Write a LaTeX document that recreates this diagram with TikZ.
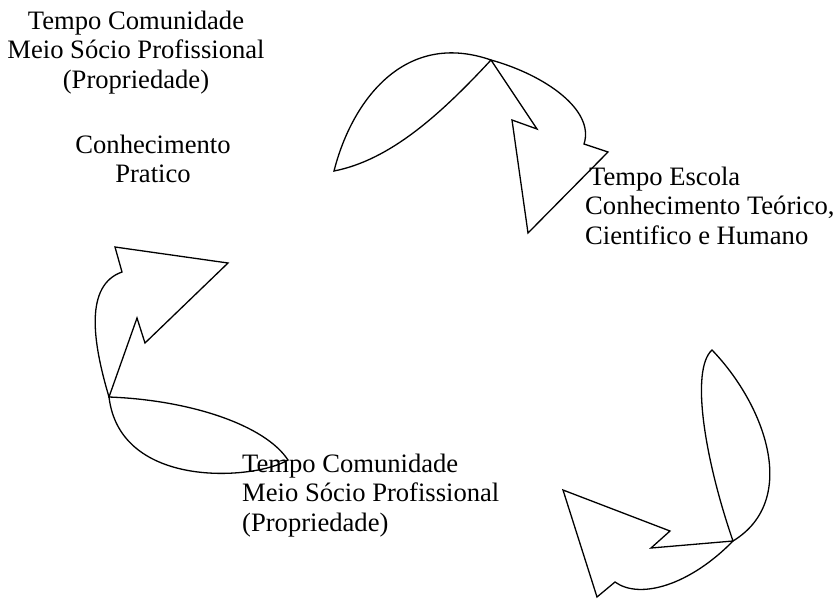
\documentclass[tikz,border=0pt]{standalone}
\usepackage{fontspec}
\setmainfont{Liberation Serif}
\begin{document}
\begin{tikzpicture}[x=1pt,y=-1pt,
  cyclearrow/.style={draw=black,line width=1.3pt,line join=miter},
  label/.style={inner sep=0pt,font=\fontsize{26.6}{29.3}\selectfont}]
\useasboundingbox[fill=white] (0,0) rectangle (837,598);

% upper curved arrow, pointing down towards the school
\draw[cyclearrow] (584,144) -- (608,152) -- (528,233) -- (512,120) -- (537,129) -- (491,60)
  .. controls (440,115) and (390,160) .. (334,171)
  .. controls (352,100) and (405,30) .. (491,60)
  .. controls (545,75) and (595,110) .. (584,144) -- cycle;

% left curved arrow, pointing up towards practical knowledge
\draw[cyclearrow] (122,272) -- (115,247) -- (228,263) -- (145,343) -- (137,318) -- (109,397)
  .. controls (190,400) and (265,425) .. (288,460)
  .. controls (255,480) and (120,490) .. (109,397)
  .. controls (92,340) and (85,285) .. (122,272) -- cycle;

% lower right curved arrow, pointing left towards the community
\draw[cyclearrow] (615,582) -- (597,597) -- (563,490) -- (670,531) -- (651,548) -- (733,541)
  .. controls (705,460) and (690,370) .. (712,350)
  .. controls (765,405) and (800,500) .. (733,541)
  .. controls (690,585) and (640,600) .. (615,582) -- cycle;

% texts
\node[label,align=center,anchor=north] (comTop) at (136,11)
  {Tempo Comunidade\\Meio Sócio Profissional\\(Propriedade)};
\node[label,align=center,anchor=north] (pratico) at (153,135)
  {Conhecimento\\Pratico};
\node[label,align=left,anchor=north west] (escola) at (585,167)
  {\hspace*{4pt}Tempo Escola\\Conhecimento Teórico,\\Cientifico e Humano};
\node[label,align=left,anchor=north west] (comBottom) at (242,454)
  {Tempo Comunidade\\Meio Sócio Profissional\\(Propriedade)};
\end{tikzpicture}
\end{document}
